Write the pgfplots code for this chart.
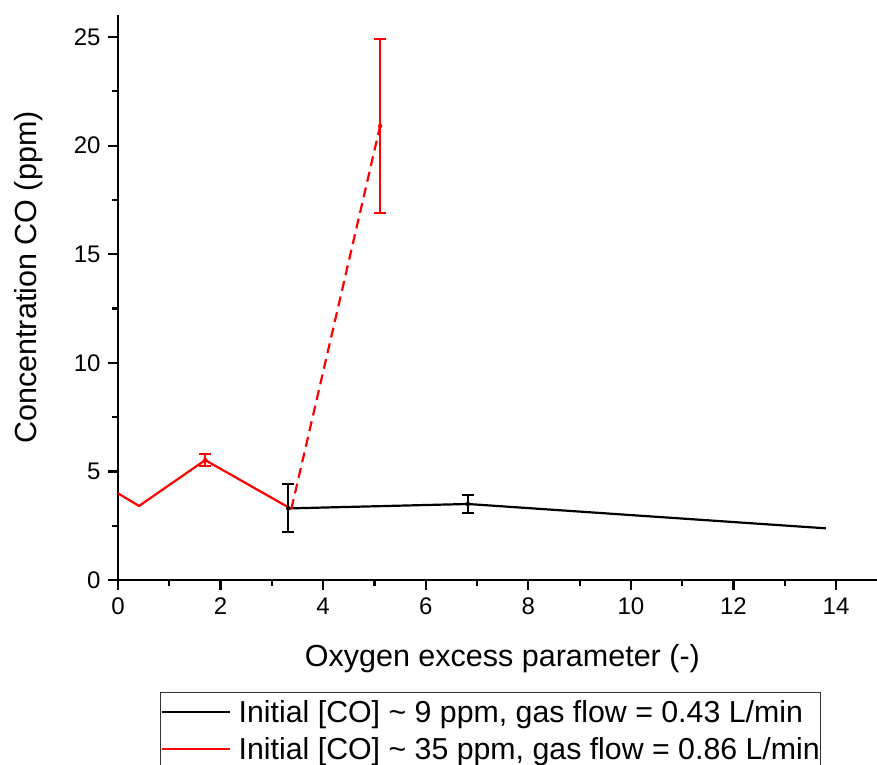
\documentclass[border=0pt]{standalone}
\usepackage{fontspec}
\setmainfont{Liberation Sans}
\usepackage{pgfplots}
\pgfplotsset{compat=1.18}
\begin{document}
\begin{tikzpicture}
\path[use as bounding box] (0,0) rectangle (877pt,764pt);
\begin{axis}[
  at={(118pt,184pt)}, anchor=south west,
  scale only axis,
  width=764.2pt, height=564.7pt,
  xmin=0, xmax=14.9, ymin=0, ymax=26,
  axis x line*=bottom, axis y line*=left,
  axis line style={line width=2.2pt},
  xtick={0,2,...,14}, ytick={0,5,...,25},
  minor x tick num=1, minor y tick num=1,
  tick align=outside,
  major tick length=10pt, minor tick length=6pt,
  every tick/.style={line width=2.2pt, black},
  /pgf/number format/assume math mode=true,
  tick label style={font=\fontsize{24}{29}\selectfont},
  xticklabel style={yshift=-4pt},
  yticklabel style={xshift=-4pt},
  xlabel={Oxygen excess parameter (-)},
  ylabel={Concentration CO (ppm)},
  label style={font=\fontsize{30.5}{36}\selectfont},
  xlabel style={at={(axis description cs:0.503,-0.154)}, anchor=base},
  ylabel style={at={(axis description cs:-0.106,0.5357)}, anchor=base, rotate=0},
  legend style={at={(axis description cs:0.055,-0.198)}, anchor=north west,
    draw=black!80, line width=1pt, inner xsep=0pt, inner ysep=4.7pt,
    row sep=2pt, column sep=7pt,
    nodes={inner xsep=1pt, inner ysep=4pt, text height=21pt, text depth=6pt,
      font=\fontsize{30.3}{36}\selectfont}},
  legend cell align=left,
  legend image code/.code={\draw[#1, line width=2.2pt] (0pt,2.5pt) -- (68pt,2.5pt);},
]
% black series
\addplot[black, line width=2.2pt, mark=none] coordinates {
  (3.38,3.30) (6.82,3.50) (13.80,2.38)
};
\addlegendentry{Initial [CO] \textasciitilde{} 9 ppm, gas flow = 0.43 L/min}
% red series (solid part)
\addplot[red, line width=2.2pt, mark=none] coordinates {
  (0,3.99) (0.41,3.41) (1.70,5.52) (3.38,3.27)
};
\addlegendentry{Initial [CO] \textasciitilde{} 35 ppm, gas flow = 0.86 L/min}
% red dashed part
\addplot[red, line width=2.2pt, mark=none, dash pattern=on 10pt off 6pt, forget plot] coordinates {
  (3.38,3.27) (5.11,20.9)
};
% error bars
\addplot[black, only marks, mark=none, forget plot,
  error bars/.cd, y dir=both, y explicit,
  error bar style={line width=2pt, black},
  error mark options={rotate=90, mark size=6pt, line width=2pt, black}]
  coordinates {(3.32,3.30) +- (0,1.10) (6.82,3.50) +- (0,0.40)};
\addplot[red, only marks, mark=none, forget plot,
  error bars/.cd, y dir=both, y explicit,
  error bar style={line width=2pt, red},
  error mark options={rotate=90, mark size=6pt, line width=2pt, red}]
  coordinates {(1.70,5.52) +- (0,0.28) (5.11,20.9) +- (0,4.0)};
\end{axis}
\end{tikzpicture}
\end{document}
